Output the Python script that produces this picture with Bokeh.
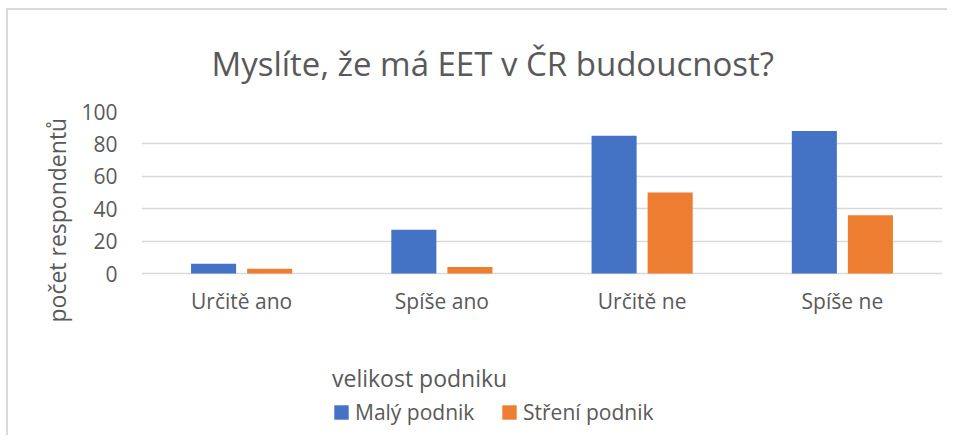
from bokeh.plotting import figure
from bokeh.models import (ColumnDataSource, FactorRange, Range1d, FixedTicker, Legend, LegendItem,
                          Title, CategoricalAxis)
from bokeh.transform import dodge
from bokeh.embed import file_html
from bokeh.resources import INLINE

categories = ["Určitě ano", "Spíše ano", "Určitě ne", "Spíše ne"]
maly_podnik = [6, 27, 85, 88]
streni_podnik = [3, 4, 50, 36]
series_names = ["Malý podnik", "Stření podnik"]
y_ticks = [0, 20, 40, 60, 80, 100]

TEXT = "#595959"
FONT = "Open Sans"

source = ColumnDataSource(dict(cat=categories, maly=maly_podnik, streni=streni_podnik))

# the frame extends below zero so that the legend can live inside it
p = figure(x_range=FactorRange(*categories, range_padding=0, factor_padding=0),
           y_range=Range1d(-101.2, 100),
           width=941, height=427, output_backend="svg", toolbar_location=None,
           x_axis_location=None,
           min_border_left=133, min_border_right=7, min_border_top=101, min_border_bottom=0)

r1 = p.vbar(x=dodge("cat", -0.14, range=p.x_range), top="maly", width=0.225, source=source,
            fill_color="#4472C4", line_color=None)
r2 = p.vbar(x=dodge("cat", 0.14, range=p.x_range), top="streni", width=0.225, source=source,
            fill_color="#ED7D31", line_color=None)

p.title.text = "Myslíte, že má EET v ČR budoucnost?"
p.title.align = "left"
p.title.offset = 70
p.title.text_font = FONT
p.title.text_font_size = "33px"
p.title.text_font_style = "normal"
p.title.text_color = TEXT
p.title.standoff = 52

p.outline_line_color = None
p.xgrid.grid_line_color = None
p.ygrid.grid_line_color = "#d9d9d9"
p.ygrid.grid_line_width = 1.3
p.ygrid.ticker = FixedTicker(ticks=y_ticks)

p.yaxis.ticker = FixedTicker(ticks=y_ticks)
p.yaxis.axis_line_color = None
p.yaxis.major_tick_line_color = None
p.yaxis.minor_tick_line_color = None
p.yaxis.major_tick_out = 0
p.yaxis.major_tick_in = 0
p.yaxis.major_label_standoff = 24
p.yaxis.major_label_text_font = FONT
p.yaxis.major_label_text_font_size = "21px"
p.yaxis.major_label_text_color = TEXT

ytitle = Title(text="počet respondentů", align="left", offset=115, standoff=11,
               text_font=FONT, text_font_size="23px", text_font_style="normal", text_color=TEXT)
p.add_layout(ytitle, "left")

xaxis = CategoricalAxis(fixed_location=0)
xaxis.axis_line_color = None
xaxis.major_tick_line_color = None
xaxis.minor_tick_line_color = None
xaxis.major_tick_out = 0
xaxis.major_tick_in = 0
xaxis.major_label_standoff = 13
xaxis.major_label_text_font = FONT
xaxis.major_label_text_font_size = "21px"
xaxis.major_label_text_color = TEXT
p.add_layout(xaxis, "below")

legend = Legend(items=[LegendItem(label=series_names[0], renderers=[r1]),
                       LegendItem(label=series_names[1], renderers=[r2])],
                orientation="horizontal", location=(191, 11),
                title="velikost podniku", title_text_font=FONT, title_text_font_size="23px",
                title_text_color=TEXT, title_text_font_style="normal", title_standoff=4,
                label_text_font=FONT, label_text_font_size="21px", label_text_color=TEXT,
                glyph_width=18, glyph_height=18, label_standoff=5, label_width=125, spacing=20,
                border_line_color=None, background_fill_alpha=0, margin=0, padding=8)
p.add_layout(legend)

p.styles = {"border-left": "2px solid #d9d9d9", "border-top": "2px solid #d9d9d9",
            "margin-left": "6px", "margin-top": "8px"}

open("out.html", "w").write(file_html(p, INLINE))
